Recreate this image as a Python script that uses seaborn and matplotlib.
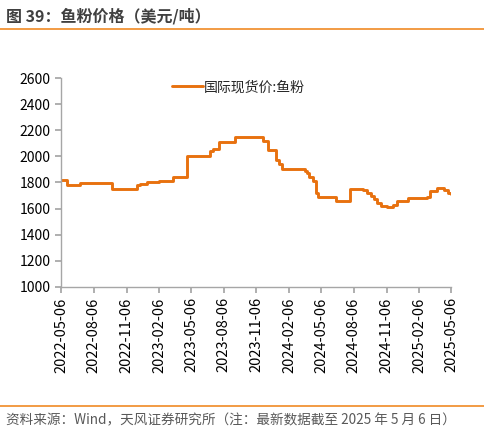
import pandas as pd
import matplotlib
matplotlib.use("Agg")
import matplotlib.pyplot as plt
import matplotlib.dates as mdates
import seaborn as sns

# 国际现货价:鱼粉 (美元/吨) at each step change
dates = [
    "2022-05-06", "2022-05-23", "2022-06-28", "2022-09-26", "2022-12-06",
    "2022-12-14", "2023-01-03", "2023-02-06", "2023-03-17", "2023-04-25",
    "2023-06-29", "2023-07-07", "2023-07-24", "2023-09-07", "2023-11-25",
    "2023-12-09", "2023-12-31", "2024-01-09", "2024-01-17", "2024-03-22",
    "2024-03-27", "2024-04-02", "2024-04-13", "2024-04-22", "2024-04-27",
    "2024-06-17", "2024-07-26", "2024-09-01", "2024-09-12", "2024-09-23",
    "2024-10-02", "2024-10-10", "2024-10-21", "2024-11-07", "2024-11-24",
    "2024-12-05", "2025-01-05", "2025-02-27", "2025-03-08", "2025-03-28",
    "2025-04-16", "2025-04-27", "2025-05-06",
]
prices = [
    1820, 1780, 1795, 1750, 1780,
    1790, 1800, 1815, 1840, 2000,
    2040, 2060, 2110, 2150, 2120,
    2050, 1970, 1940, 1905, 1890,
    1870, 1840, 1810, 1720, 1690,
    1655, 1750, 1740, 1720, 1700,
    1670, 1640, 1620, 1610, 1625,
    1660, 1680, 1690, 1735, 1755,
    1740, 1720, 1710,
]
tick_dates = [
    "2022-05-06", "2022-08-06", "2022-11-06", "2023-02-06", "2023-05-06",
    "2023-08-06", "2023-11-06", "2024-02-06", "2024-05-06", "2024-08-06",
    "2024-11-06", "2025-02-06", "2025-05-06",
]
y_ticks = [1000, 1200, 1400, 1600, 1800, 2000, 2200, 2400, 2600]
series_name = "国际现货价:鱼粉"

df = pd.DataFrame({"date": pd.to_datetime(dates), "price": prices})

sns.set_theme(style="white")
plt.rcParams["font.family"] = ["Noto Sans CJK SC", "DejaVu Sans"]

orange = "#E8710F"
grey = "#A6A6A6"

fig = plt.figure(figsize=(4.85, 4.34), dpi=100)
ax = fig.add_axes([0.126, 0.339, 0.804, 0.481])

sns.lineplot(data=df, x="date", y="price", drawstyle="steps-post",
             color=orange, linewidth=2.1, label=series_name, ax=ax)

ax.set_xlim(pd.Timestamp(tick_dates[0]), pd.Timestamp(tick_dates[-1]))
ax.set_ylim(1000, 2600)
ax.set_yticks(y_ticks)
ax.set_xticks(pd.to_datetime(tick_dates))
ax.xaxis.set_major_formatter(mdates.DateFormatter("%Y-%m-%d"))
ax.tick_params(axis="x", rotation=90, labelsize=10.5, length=4, color=grey,
               direction="out", bottom=True, labelcolor="#000000")
ax.tick_params(axis="y", labelsize=10, length=4, color=grey,
               direction="out", left=True, labelcolor="#000000")
ax.set_xlabel("")
ax.set_ylabel("")

for side in ["top", "right"]:
    ax.spines[side].set_visible(False)
for side in ["left", "bottom"]:
    ax.spines[side].set_color(grey)
    ax.spines[side].set_linewidth(1.0)

ax.legend(loc="upper center", bbox_to_anchor=(0.455, 1.05), frameon=False,
          fontsize=10, handlelength=2.2, handletextpad=0.1)

fig.text(0.012, 0.962, "图 39：鱼粉价格（美元/吨）", fontsize=11.5,
         fontweight="bold", color="#404040", va="center", ha="left")
fig.add_artist(plt.Line2D([0.0, 1.0], [0.933, 0.933], color="#F08A24",
                          linewidth=1.2, transform=fig.transFigure))
fig.add_artist(plt.Line2D([0.0, 1.0], [0.065, 0.065], color="#F08A24",
                          linewidth=1.2, transform=fig.transFigure))
fig.text(0.012, 0.032, "资料来源：Wind，天风证券研究所（注：最新数据截至 2025 年 5 月 6 日）",
         fontsize=9.8, color="#595959", va="center", ha="left")

fig.savefig("out.png", dpi=100)
plt.close(fig)
